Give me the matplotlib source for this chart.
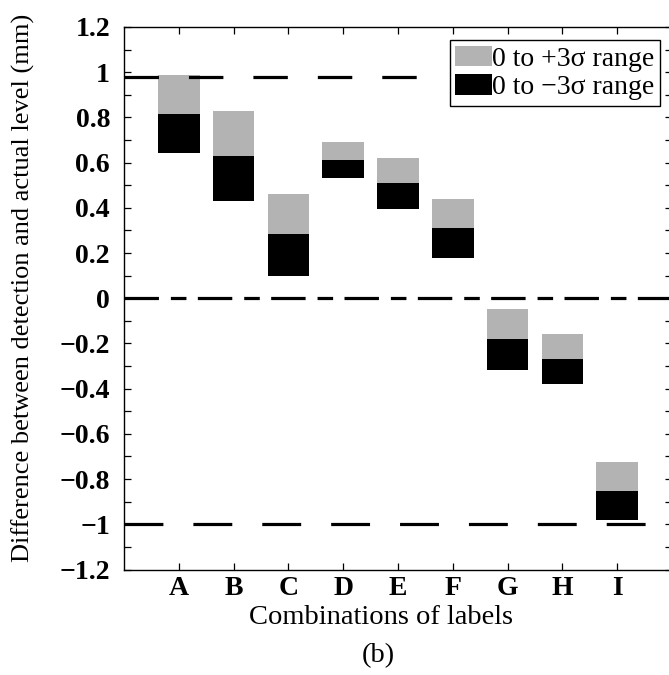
import matplotlib
matplotlib.use("Agg")
import matplotlib.pyplot as plt
from matplotlib.patches import Patch
from matplotlib.ticker import MultipleLocator, FuncFormatter

# Detection error statistics per label combination (mm)
categories = ["A", "B", "C", "D", "E", "F", "G", "H", "I"]
mean_diff = [0.816, 0.630, 0.283, 0.612, 0.511, 0.310, -0.182, -0.267, -0.852]
upper_3s = [0.988, 0.827, 0.462, 0.690, 0.620, 0.440, -0.049, -0.159, -0.723]
lower_3s = [0.641, 0.430, 0.100, 0.531, 0.397, 0.177, -0.319, -0.378, -0.983]
ref_upper = 0.98
ref_lower = -1.0
legend_labels = ["0 to +3\u03c3 range", "0 to \u22123\u03c3 range"]

plt.rcParams["font.family"] = ["Liberation Serif", "DejaVu Serif"]
plt.rcParams["lines.scale_dashes"] = False
plt.rcParams["axes.unicode_minus"] = True

W, H = 669, 675
fig = plt.figure(figsize=(W / 100, H / 100), dpi=100)
L, R, T, B = 124, 672, 27, 569.5
ax = fig.add_axes([L / W, 1 - B / H, (R - L) / W, (B - T) / H])

x = list(range(1, len(categories) + 1))
gray = "#b3b3b3"
up_h = [u - m for u, m in zip(upper_3s, mean_diff)]
lo_h = [m - l for m, l in zip(mean_diff, lower_3s)]
ax.bar(x, up_h, bottom=mean_diff, width=0.76, color=gray, linewidth=0, zorder=2)
ax.bar(x, lo_h, bottom=lower_3s, width=0.76, color="black", linewidth=0, zorder=2)

# reference lines
ax.axhline(ref_upper, xmax=(425 - L) / (R - L), color="black", lw=2.3,
           dashes=(24.8, 21.6), dash_capstyle="butt", zorder=3)
ax.axhline(ref_lower, color="black", lw=2.3, dashes=(28.0, 21.6), dash_capstyle="butt", zorder=3)
ax.axhline(0, color="black", lw=2.3, dashes=(24.8, 8.6, 11.2, 8.2), dash_capstyle="butt", zorder=3)

ax.set_xlim(0, 10)
ax.set_ylim(-1.2, 1.2)
ax.set_xticks(x)
ax.set_xticklabels(categories)
ax.yaxis.set_major_locator(MultipleLocator(0.2))
ax.yaxis.set_minor_locator(MultipleLocator(0.1))

def fmt(v, pos):
    s = "%g" % round(v, 2)
    if s == "-0":
        s = "0"
    return s.replace("-", "\u2212")

ax.yaxis.set_major_formatter(FuncFormatter(fmt))
ax.tick_params(axis="both", which="both", direction="in", top=True, right=True,
               length=5, width=0.9)
ax.tick_params(axis="y", which="major", pad=10, labelsize=20)
ax.tick_params(axis="x", which="major", pad=5, labelsize=20)
for lab in ax.get_xticklabels() + ax.get_yticklabels():
    lab.set_fontweight("bold")
for s in ax.spines.values():
    s.set_linewidth(1.0)

ax.set_xlabel("Combinations of labels", fontsize=20.5)
ax.xaxis.set_label_coords((381 - L) / (R - L), -(618 - B) / (B - T), transform=ax.transAxes)
ax.set_ylabel("Difference between detection and actual level (mm)", fontsize=19)
ax.yaxis.set_label_coords(-(L - 23) / (R - L), (B - 288) / (B - T), transform=ax.transAxes)
ax.xaxis.label.set_va("center")
ax.yaxis.label.set_va("center")

fig.text(378 / W, 1 - 656 / H, "(b)", fontsize=20.5, ha="center", va="center")

handles = [Patch(facecolor=gray, edgecolor="none"), Patch(facecolor="black", edgecolor="none")]
leg = ax.legend(handles, legend_labels, loc="upper right",
                bbox_to_anchor=(660 / W, 1 - 40 / H), bbox_transform=fig.transFigure,
                fontsize=20, frameon=True, fancybox=False, framealpha=1,
                edgecolor="black", borderpad=0.2, borderaxespad=0,
                handlelength=1.33, handleheight=0.78, handletextpad=0.0,
                labelspacing=0.08)
leg.get_frame().set_linewidth(1.0)
leg.set_zorder(5)

fig.savefig("out.png", dpi=100)
